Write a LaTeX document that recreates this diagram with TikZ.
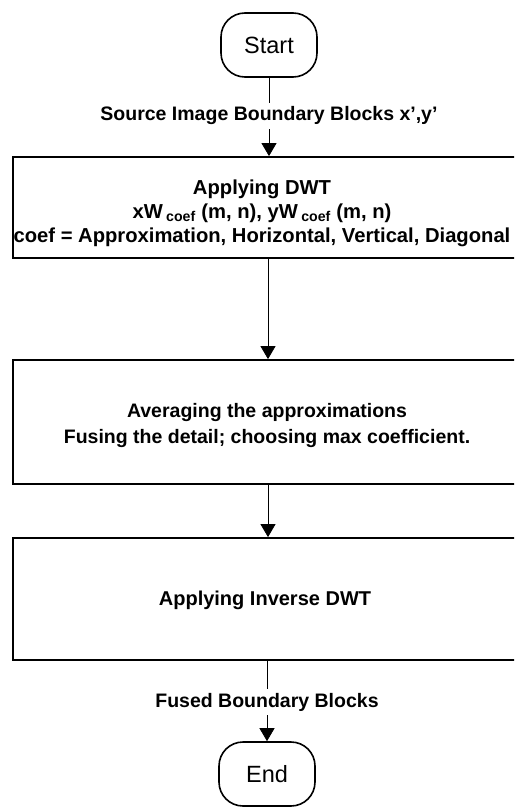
\documentclass[tikz,border=0pt]{standalone}
\usepackage{fontspec}
\setmainfont{Liberation Sans}
\usetikzlibrary{arrows.meta}
\begin{document}
\begin{tikzpicture}[x=1pt,y=-1pt,
  terminal/.style={draw, line width=1.6pt, rounded corners=24pt,
    minimum width=96pt, minimum height=64pt, inner sep=0pt,
    font=\fontsize{23.5}{28}\selectfont},
  stepbox/.style={draw, line width=1.8pt, fill=white, inner sep=0pt,
    minimum width=517pt},
  boxtext/.style={font=\bfseries\fontsize{19.5}{24}\selectfont,
    align=center, inner sep=0pt},
  flowlabel/.style={font=\bfseries\fontsize{19.5}{23}\selectfont,
    inner sep=4pt},
  link/.style={line width=0.8pt},
  flow/.style={link, -{Triangle[width=15pt,length=13pt]}}]
\useasboundingbox (0,0) rectangle (514,808);
\clip (0,0) rectangle (514,808);

% terminals
\node[terminal] (start) at (269,45) {Start};
\node[terminal] (finish) at (267,774) {End};

% process boxes (they run past the right edge)
\node[stepbox, minimum height=101pt] (dwt) at (271.5,207.5) {};
\node[stepbox, minimum height=124pt] (fuse) at (271.5,422) {};
\node[stepbox, minimum height=122pt] (idwt) at (271.5,599) {};

% box contents
\node[boxtext, font=\bfseries\fontsize{20.2}{24}\selectfont] (dwttext) at (262,213)
  {Applying DWT\\
  xW\,\textsubscript{coef} (m, n), yW\,\textsubscript{coef} (m, n)\\
  coef = Approximation, Horizontal, Vertical, Diagonal};
\node[boxtext, font=\bfseries\fontsize{19.5}{26}\selectfont] (fusetext) at (267,425)
  {Averaging the approximations\\Fusing the detail; choosing max coefficient.};
\node[boxtext, font=\bfseries\fontsize{20}{24}\selectfont] (idwttext) at (265,600)
  {Applying Inverse DWT};

% data labels
\node[flowlabel] (src) at (269,116) {Source Image Boundary Blocks x',y'};
\node[flowlabel] (fused) at (267,702) {Fused Boundary Blocks};

% connectors
\draw[link] (start.south) -- (src.north);
\draw[flow] (src.south) -- (src.south |- dwt.north);
\draw[flow] (268,258) coordinate (dwtout) -- (dwtout |- fuse.north);
\draw[flow] (268,484) coordinate (fuseout) -- (fuseout |- idwt.north);
\draw[link] (fused.north |- idwt.south) -- (fused.north);
\draw[flow] (fused.south) -- (fused.south |- finish.north);
\end{tikzpicture}
\end{document}
